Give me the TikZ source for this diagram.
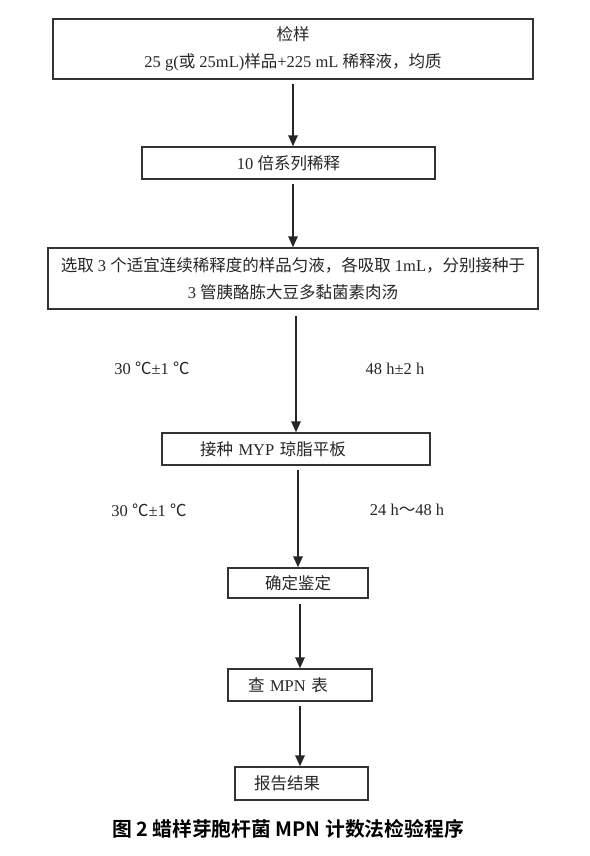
\documentclass[tikz,border=0pt]{standalone}
\usepackage{fontspec}
\usepackage{tikz}
\usetikzlibrary{arrows.meta}
\setmainfont{Liberation Serif}
\newfontfamily\cjk{Noto Sans CJK SC}[BoldFont={Noto Sans CJK SC Bold}]
\newcommand{\entxt}[1]{{\rmfamily #1}}

\begin{document}
\begin{tikzpicture}[
		stepbox/.style={rectangle,draw=black!80,line width=1.5pt,minimum height=32pt,inner sep=0pt,
			font={\cjk\fontsize{16.5}{27}\selectfont},text=black!85},
		labeltext/.style={font={\cjk\fontsize{16.5}{20}\selectfont},text=black!85},
		arr/.style={-{Triangle[length=11pt,width=9.5pt]},line width=1.7pt,draw=black!85},
		node distance=0pt
		]
	\useasboundingbox (0,0) rectangle (589pt,-856pt);

	\node[stepbox, minimum width=480pt, minimum height=60pt, align=center](S0) at (293pt,-49pt)
		{检样\\\entxt{25 g(}或\entxt{ 25mL)}样品\entxt{+225 mL }稀释液，均质};
	\node[stepbox, below of = S0, xshift=-4.5pt, yshift=-114pt, minimum width=293pt](S1)
		{\entxt{10 }倍系列稀释};
	\node[stepbox, below of = S1, xshift=4.5pt, yshift=-115.5pt, minimum width=490pt, minimum height=61pt, align=center](S2)
		{选取\entxt{ 3 }个适宜连续稀释度的样品匀液，各吸取\entxt{ 1mL}，分别接种于\\\entxt{3 }管胰酪胨大豆多黏菌素肉汤};
	\node[stepbox, below of = S2, xshift=3pt, yshift=-170.5pt, inner xsep=38pt, text width=192pt, align=left](S3)
		{接种\entxt{ MYP }琼脂平板};
	\node[stepbox, below of = S3, xshift=2pt, yshift=-134pt, minimum width=140pt, minimum height=30pt](S4)
		{确定鉴定};
	\node[stepbox, below of = S4, xshift=2pt, yshift=-102pt, inner xsep=20pt, text width=104pt, align=left](S5)
		{查\entxt{ MPN }表};
	\node[stepbox, below of = S5, xshift=1.5pt, yshift=-98.5pt, inner xsep=19pt, text width=95pt, minimum height=33pt, align=left](S6)
		{报告结果};

	% conditions
	\node[labeltext](T0) at (152pt,-368pt){\entxt{30 }℃\entxt{±1 }℃};
	\node[labeltext](T1) at (395pt,-369pt){\entxt{48 h±2 h}};
	\node[labeltext](T2) at (149pt,-510pt){\entxt{30 }℃\entxt{±1 }℃};
	\node[labeltext](T3) at (407pt,-510pt){\entxt{24 h}～\entxt{48 h}};

	\draw[arr] ([yshift=-4pt]S0.south) -- (S0.south |- S1.north);
	\draw[arr] ([yshift=-4pt]S1.south -| S2) -- (S2.north);
	\draw[arr] ([yshift=-6pt]S2.south -| S3) -- (S3.north);
	\draw[arr] ([yshift=-4pt]S3.south -| S4) -- (S4.north);
	\draw[arr] ([yshift=-5pt]S4.south -| S5) -- (S5.north);
	\draw[arr] ([yshift=-4pt]S5.south) -- (S5.south |- S6.north);

	\node[font={\cjk\bfseries\fontsize{19.8}{22}\selectfont}](C0) at (288pt,-829pt)
		{图 2 蜡样芽胞杆菌 MPN 计数法检验程序};
\end{tikzpicture}
\end{document}
